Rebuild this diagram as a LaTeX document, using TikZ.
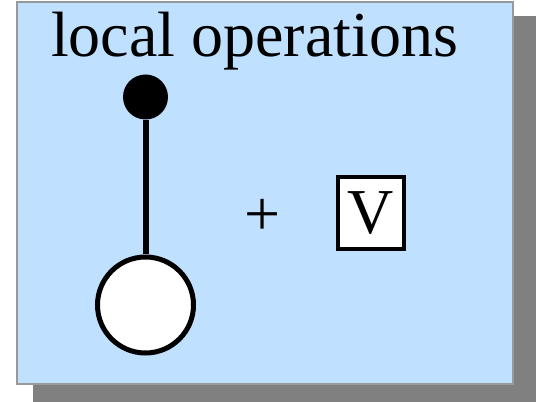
\documentclass[tikz,border=0pt]{standalone}
\usepackage{fontspec}
\setmainfont{Liberation Serif}
\definecolor{panelblue}{RGB}{192,224,255}
\definecolor{shadowgray}{RGB}{128,128,128}
\begin{document}
\begin{tikzpicture}[x=0.75pt, y=-0.75pt]
    \useasboundingbox (0,0) rectangle (536,402);

    % Shadow behind the panel
    \fill[shadowgray] (33,16) rectangle (536,402);

    % Panel
    \draw[fill=panelblue, draw=gray!80, line width=0.8pt] (17,2) rectangle (513,384);
    \node[font=\fontsize{48}{58}\selectfont, anchor=base] (title) at (254.5,57) {local operations};

    % Control dot and target circle
    \node[circle, fill=black, inner sep=0pt, minimum size=33.75pt] (ctrl) at (145.5,97) {};
    \node[circle, draw, fill=white, line width=3.75pt, inner sep=0pt, minimum size=72pt] (targ) at (145.5,305) {};
    \draw[line width=4.5pt] (ctrl) -- (targ);

    % Plus and the V gate
    \node[font=\fontsize{48}{58}\selectfont, inner sep=0pt] (plus) at (263,217) {+};
    \node[draw, fill=white, line width=3pt, inner sep=0pt, minimum width=49.5pt, minimum height=54pt,
          font=\fontsize{48}{58}\selectfont] (gate) at (370.5,213) {V};
\end{tikzpicture}
\end{document}
